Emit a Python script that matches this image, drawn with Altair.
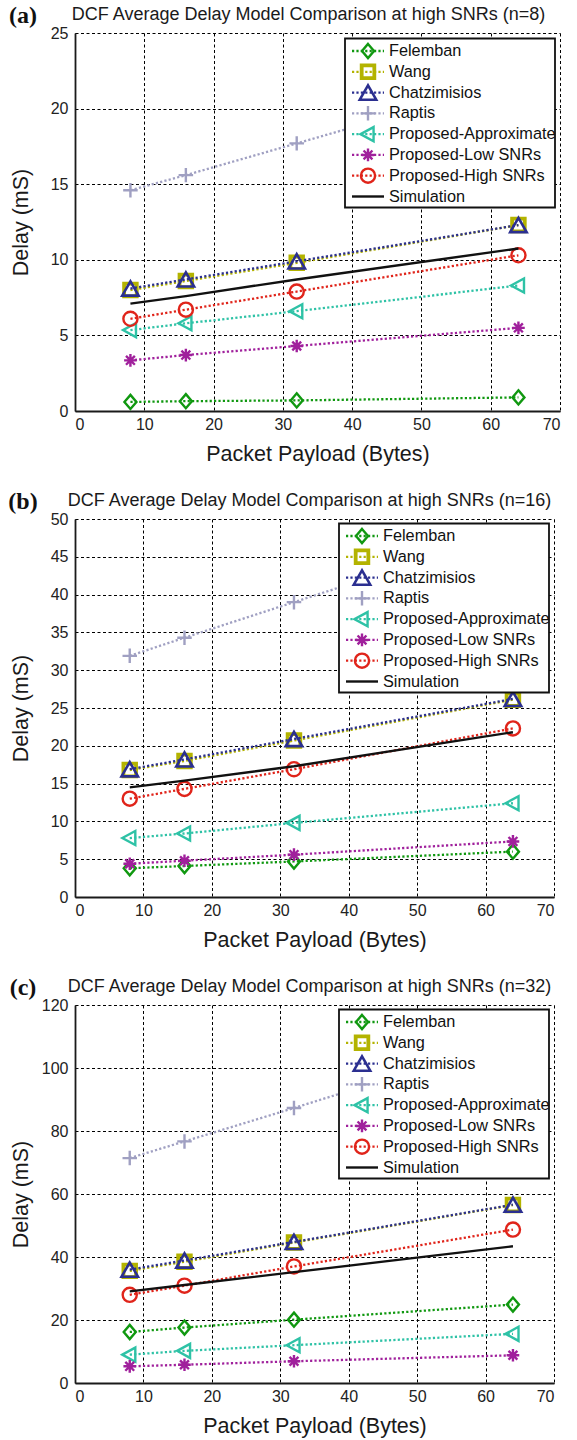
import altair as alt
import pandas as pd

payload = [8, 16, 32, 64]
series_names = ["Felemban", "Wang", "Chatzimisios", "Raptis",
                "Proposed-Approximate", "Proposed-Low SNRs",
                "Proposed-High SNRs", "Simulation"]

# n = 8
felemban_a = [0.6, 0.65, 0.7, 0.9]
wang_a = [8.0, 8.6, 9.8, 12.3]
chatz_a = [8.1, 8.7, 9.9, 12.3]
raptis_a = [14.6, 15.6, 17.7, 21.9]
approx_a = [5.35, 5.8, 6.6, 8.3]
low_a = [3.35, 3.7, 4.3, 5.5]
high_a = [6.1, 6.7, 7.9, 10.3]
sim_a = [7.1, 7.6, 8.7, 10.75]

# n = 16
felemban_b = [3.8, 4.1, 4.7, 6.0]
wang_b = [16.8, 18.0, 20.7, 26.1]
chatz_b = [16.9, 18.2, 20.9, 26.2]
raptis_b = [31.9, 34.3, 39.0, 48.4]
approx_b = [7.8, 8.4, 9.8, 12.4]
low_b = [4.4, 4.8, 5.6, 7.35]
high_b = [13.0, 14.3, 16.9, 22.3]
sim_b = [14.5, 15.4, 17.3, 21.8]

# n = 32
felemban_c = [16.2, 17.6, 20.1, 24.9]
wang_c = [35.6, 38.5, 44.6, 56.5]
chatz_c = [36.0, 38.9, 44.8, 56.6]
raptis_c = [71.4, 76.7, 87.3, 109.0]
approx_c = [9.0, 10.2, 12.0, 15.6]
low_c = [5.3, 5.8, 6.9, 8.8]
high_c = [28.0, 30.9, 37.0, 48.7]
sim_c = [29.1, 31.1, 35.2, 43.4]

FONT = "Liberation Sans"
DIAMOND = "M0,-1L0.85,0L0,1L-0.85,0Z"
TRI_LEFT = "M-1,0L0.75,-0.95L0.75,0.95Z"
PLUS = "M-1,0L1,0M0,-1L0,1"
ASTER = "M-1,0L1,0M0,-1L0,1M-0.7,-0.7L0.7,0.7M-0.7,0.7L0.7,-0.7"

# name: color, shape, size, strokeWidth
styles = {
    "Felemban": ("#109810", DIAMOND, 200, 2.4),
    "Wang": ("#b3b300", "square", 160, 3.8),
    "Chatzimisios": ("#2b2f90", "triangle-up", 270, 2.6),
    "Raptis": ("#a0a0c2", PLUS, 210, 2.4),
    "Proposed-Approximate": ("#2ec2a6", TRI_LEFT, 220, 2.4),
    "Proposed-Low SNRs": ("#a0209c", ASTER, 160, 2.4),
    "Proposed-High SNRs": ("#e0241a", "circle", 200, 2.4),
    "Simulation": ("#111111", None, 0, 2.4),
}
DOT = [2.2, 2.2]


def panel(tag, n, values, ymax, ystep, width, title_dx, top_off):
    height = 378
    rows = []
    for name, vals in zip(series_names, values):
        for p, v in zip(payload, vals):
            rows.append({"payload": p, "delay": v, "series": name})
    df = pd.DataFrame(rows)

    xenc = alt.X("payload:Q", scale=alt.Scale(domain=[0, 70], nice=False, zero=False),
                 axis=alt.Axis(values=list(range(0, 71, 10)), title="Packet Payload (Bytes)",
                               titleY=43, titleBaseline="middle", labelPadding=5))
    yenc = alt.Y("delay:Q", scale=alt.Scale(domain=[0, ymax], nice=False),
                 axis=alt.Axis(values=list(range(0, ymax + 1, ystep)), title="Delay (mS)",
                               titleX=-54, titleY=height / 2, titleAngle=-90,
                               titleBaseline="middle", titleAlign="center", labelPadding=7))

    data_layers = []
    for name in series_names:
        color, shape, size, sw = styles[name]
        base = alt.Chart(df).transform_filter(alt.datum.series == name)
        if name == "Simulation":
            data_layers.append(base.mark_line(color=color, strokeWidth=2.4).encode(x=xenc, y=yenc))
        else:
            data_layers.append(base.mark_line(color=color, strokeWidth=2.3, strokeDash=DOT).encode(x=xenc, y=yenc))
            data_layers.append(base.mark_point(shape=shape, size=size, filled=False, color=color,
                                               strokeWidth=sw, opacity=1).encode(x=xenc, y=yenc))

    # legend
    legdf = pd.DataFrame({"series": series_names})
    br = width - 5
    bl = br - 210
    lscale = alt.Scale(type="point", domain=series_names, range=[top_off + 12.5, top_off + 158], padding=0)
    ly = alt.Y("series:N", scale=lscale, axis=None)
    box = alt.Chart(pd.DataFrame({"k": [0]})).mark_rect(fill="white", stroke="#111", strokeWidth=1.8).encode(
        x=alt.value(bl), x2=alt.value(br), y=alt.value(top_off), y2=alt.value(top_off + 169))
    leg_layers = [box]
    for name in series_names:
        color, shape, size, sw = styles[name]
        lb = alt.Chart(legdf).transform_filter(alt.datum.series == name)
        if name == "Simulation":
            leg_layers.append(lb.mark_rule(color=color, strokeWidth=2.4).encode(
                x=alt.value(bl + 7), x2=alt.value(bl + 39), y=ly))
        else:
            leg_layers.append(lb.mark_rule(color=color, strokeWidth=2.3, strokeDash=DOT).encode(
                x=alt.value(bl + 7), x2=alt.value(bl + 39), y=ly))
            leg_layers.append(lb.mark_point(shape=shape, size=size, filled=False, color=color,
                                            strokeWidth=sw, opacity=1).encode(x=alt.value(bl + 23), y=ly))
    leg_layers.append(alt.Chart(legdf).mark_text(align="left", baseline="middle", font=FONT,
                                                 fontSize=16.3, color="#111").encode(
        x=alt.value(bl + 44), y=ly, text="series:N"))

    title = "DCF Average Delay Model Comparison at high SNRs (n=%d)" % n
    tdf = pd.DataFrame({"t": [title], "tag": [tag]})
    ttl = alt.Chart(tdf).mark_text(align="center", baseline="middle", font=FONT, fontSize=18,
                                   color="#1a1a1a").encode(
        x=alt.value(width / 2 + title_dx), y=alt.value(-18), text="t:N")
    lab = alt.Chart(tdf).mark_text(align="center", baseline="middle", font="Liberation Serif",
                                   fontSize=24, fontWeight="bold", color="#111").encode(
        x=alt.value(-52), y=alt.value(-17), text="tag:N")

    return alt.layer(alt.layer(*data_layers), alt.layer(*leg_layers), ttl, lab).resolve_scale(
        y="independent").properties(width=width, height=height)


pa = panel("(a)", 8, [felemban_a, wang_a, chatz_a, raptis_a, approx_a, low_a, high_a, sim_a],
           25, 5, 485, -9, 5.5)
pb = panel("(b)", 16, [felemban_b, wang_b, chatz_b, raptis_b, approx_b, low_b, high_b, sim_b],
           50, 5, 479, -5, 4.5)
pc = panel("(c)", 32, [felemban_c, wang_c, chatz_c, raptis_c, approx_c, low_c, high_c, sim_c],
           120, 20, 479, -5, 4.5)

chart = alt.vconcat(pa, pb, pc, spacing=25).properties(
    padding={"left": 8, "top": 4, "right": 5, "bottom": 5}
).configure_view(stroke=None).configure_axis(
    grid=True, gridDash=[3, 2.5], gridColor="#000", gridWidth=1, gridOpacity=1,
    ticks=False, domainColor="#1a1a1a", domainWidth=1.8,
    labelFont=FONT, labelFontSize=16, labelColor="#222",
    titleFont=FONT, titleFontSize=21.5, titleFontWeight="normal", titleColor="#1a1a1a"
)

chart.save("out.html", embed_options={"renderer": "svg", "actions": False})
